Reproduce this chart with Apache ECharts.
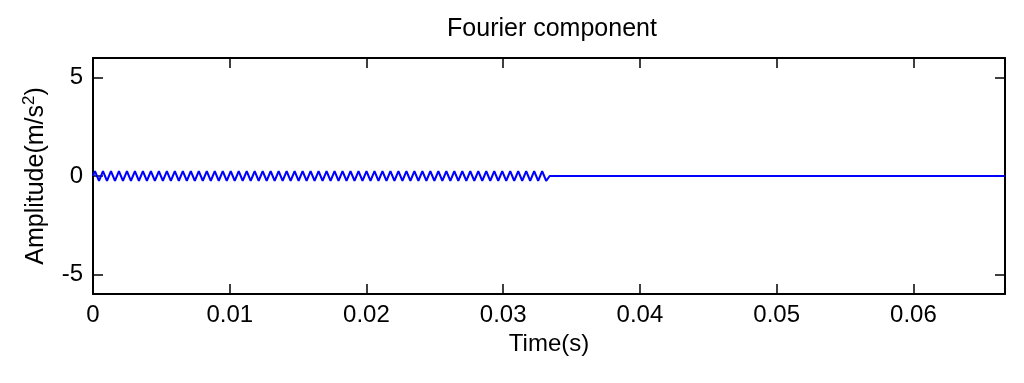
<!DOCTYPE html>
<html>
<head>
<meta charset="utf-8">
<script src="https://cdn.jsdelivr.net/npm/echarts@6/dist/echarts.min.js"></script>
<style>
  html, body { margin: 0; padding: 0; background: #fff; }
  #main { width: 1024px; height: 383px; }
</style>
</head>
<body>
<div id="main"></div>
<script>
// sample step of the oscillating part (s)
const sampleStep = 0.000146;
// oscillation, about +-0.25, ~57 cycles up to 0.0333 s
const burstValues = [
  0, 0.25, 0, -0.25, 0, 0.25, 0, -0.25, 0, 0.25, 0, -0.25,
  0, 0.25, 0, -0.25, 0, 0.25, 0, -0.25, 0, 0.25, 0, -0.25,
  0, 0.25, 0, -0.25, 0, 0.25, 0, -0.25, 0, 0.25, 0, -0.25,
  0, 0.25, 0, -0.25, 0, 0.25, 0, -0.25, 0, 0.25, 0, -0.25,
  0, 0.25, 0, -0.25, 0, 0.25, 0, -0.25, 0, 0.25, 0, -0.25,
  0, 0.25, 0, -0.25, 0, 0.25, 0, -0.25, 0, 0.25, 0, -0.25,
  0, 0.25, 0, -0.25, 0, 0.25, 0, -0.25, 0, 0.25, 0, -0.25,
  0, 0.25, 0, -0.25, 0, 0.25, 0, -0.25, 0, 0.25, 0, -0.25,
  0, 0.25, 0, -0.25, 0, 0.25, 0, -0.25, 0, 0.25, 0, -0.25,
  0, 0.25, 0, -0.25, 0, 0.25, 0, -0.25, 0, 0.25, 0, -0.25,
  0, 0.25, 0, -0.25, 0, 0.25, 0, -0.25, 0, 0.25, 0, -0.25,
  0, 0.25, 0, -0.25, 0, 0.25, 0, -0.25, 0, 0.25, 0, -0.25,
  0, 0.25, 0, -0.25, 0, 0.25, 0, -0.25, 0, 0.25, 0, -0.25,
  0, 0.25, 0, -0.25, 0, 0.25, 0, -0.25, 0, 0.25, 0, -0.25,
  0, 0.25, 0, -0.25, 0, 0.25, 0, -0.25, 0, 0.25, 0, -0.25,
  0, 0.25, 0, -0.25, 0, 0.25, 0, -0.25, 0, 0.25, 0, -0.25,
  0, 0.25, 0, -0.25, 0, 0.25, 0, -0.25, 0, 0.25, 0, -0.25,
  0, 0.25, 0, -0.25, 0, 0.25, 0, -0.25, 0, 0.25, 0, -0.25,
  0, 0.25, 0, -0.25, 0, 0.25, 0, -0.25, 0, 0.25, 0, -0.25
];
// flat part after the burst
const tailTimes = [0.0334, 0.0667];
const tailValues = [0, 0];

const xTicks = [0, 0.01, 0.02, 0.03, 0.04, 0.05, 0.06];
const yTicks = [-5, 0, 5];
const xMax = 0.0667;
const yMin = -6, yMax = 6;

const lineData = [];
for (let i = 0; i < burstValues.length; i++) {
  lineData.push([i * sampleStep, burstValues[i]]);
}
for (let i = 0; i < tailTimes.length; i++) {
  lineData.push([tailTimes[i], tailValues[i]]);
}

const font = 'Liberation Sans, Arial, sans-serif';
const chart = echarts.init(document.getElementById('main'));

const axisCommon = {
  axisLine: { show: true, onZero: false, lineStyle: { color: '#000', width: 2 } },
  axisTick: { show: true, inside: true, length: 10, lineStyle: { color: '#000', width: 1.5 } },
  splitLine: { show: false }
};

const option = {
  animation: false,
  backgroundColor: '#fff',
  title: {
    text: 'Fourier component',
    left: 547,
    textAlign: 'center',
    top: 12,
    textStyle: { fontFamily: font, fontSize: 25, fontWeight: 'normal', color: '#000' }
  },
  grid: { left: 93, right: 19, top: 58, bottom: 89 },
  xAxis: [
    Object.assign({}, axisCommon, {
      type: 'value',
      position: 'bottom',
      min: 0,
      max: xMax,
      name: 'Time(s)',
      nameLocation: 'middle',
      nameGap: 36,
      nameTextStyle: { fontFamily: font, fontSize: 24, color: '#000' },
      axisTick: Object.assign({}, axisCommon.axisTick, { customValues: xTicks }),
      axisLabel: {
        customValues: xTicks,
        margin: 9,
        fontFamily: font, fontSize: 24, color: '#000',
        formatter: v => String(v)
      }
    }),
    Object.assign({}, axisCommon, {
      type: 'value',
      position: 'top',
      min: 0,
      max: xMax,
      axisTick: Object.assign({}, axisCommon.axisTick, { customValues: xTicks }),
      axisLabel: { show: false, customValues: xTicks }
    })
  ],
  yAxis: [
    Object.assign({}, axisCommon, {
      type: 'value',
      position: 'left',
      min: yMin,
      max: yMax,
      name: 'Amplitude(m/s{sup|2})',
      nameLocation: 'middle',
      nameGap: 42,
      nameTextStyle: {
        fontFamily: font, fontSize: 25, color: '#000', lineHeight: 30,
        rich: {
          sup: { fontFamily: font, fontSize: 17, color: '#000', verticalAlign: 'top', lineHeight: 30 }
        }
      },
      axisTick: Object.assign({}, axisCommon.axisTick, { customValues: yTicks }),
      axisLabel: {
        customValues: yTicks,
        margin: 10,
        fontFamily: font, fontSize: 24, color: '#000'
      }
    }),
    Object.assign({}, axisCommon, {
      type: 'value',
      position: 'right',
      min: yMin,
      max: yMax,
      axisTick: Object.assign({}, axisCommon.axisTick, { customValues: yTicks }),
      axisLabel: { show: false, customValues: yTicks }
    })
  ],
  series: [{
    type: 'line',
    data: lineData,
    showSymbol: false,
    symbol: 'none',
    lineStyle: { color: '#0000ff', width: 2 },
    xAxisIndex: 0,
    yAxisIndex: 0
  }]
};

chart.setOption(option);
</script>
</body>
</html>
